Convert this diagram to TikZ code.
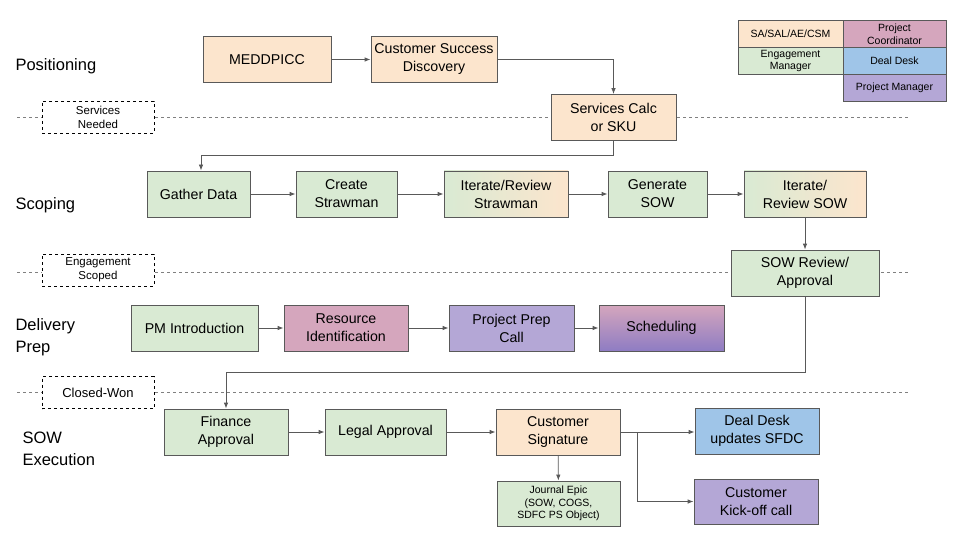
\documentclass[tikz,border=0pt]{standalone}
\usepackage{fontspec}
\setmainfont{Liberation Sans}
\usetikzlibrary{arrows.meta}
\definecolor{cor}{HTML}{FCE5CD}
\definecolor{cgr}{HTML}{D9EAD3}
\definecolor{cpk}{HTML}{D5A6BD}
\definecolor{cbl}{HTML}{9FC5E8}
\definecolor{cpu}{HTML}{B4A7D6}
\definecolor{cpd}{HTML}{8E7CC3}
\definecolor{cln}{HTML}{595959}
\begin{document}
\begin{tikzpicture}[x=1pt,y=-1pt,
 box/.style={draw=cln,line width=0.8pt,minimum height=46pt,align=center,font=\fontsize{14.2}{18}\selectfont,inner sep=1pt},
 lg/.style={draw=cln,line width=0.8pt,align=center,font=\fontsize{10.5}{12.5}\selectfont,inner sep=0pt,minimum height=27pt},
 dl/.style={draw=black,dashed,line width=0.7pt,minimum width=112pt,minimum height=32pt,align=center,font=\fontsize{11.5}{14}\selectfont,inner sep=0pt},
 arr/.style={draw=cln,line width=0.8pt,-{Latex[length=6pt,width=4.5pt]}},
 sep/.style={draw=gray,dashed,line width=0.8pt},
 row/.style={anchor=west,font=\fontsize{16.5}{22}\selectfont,align=left}]
\useasboundingbox (0,0) rectangle (960,540);
\draw[sep] (17,117) -- (908,117);
\draw[sep] (17,272) -- (908,272);
\draw[sep] (17,392) -- (908,392);
\node[row] (r1) at (12,66) {Positioning};
\node[row] (r2) at (12,205) {Scoping};
\node[row] (r3) at (12,337) {Delivery\\Prep};
\node[row] (r4) at (19,449) {SOW\\Execution};
\node[dl,fill=white] (d1) at (98,117) {Services\\Needed};
\node[dl,fill=white] (d2) at (98,270) {Engagement\\Scoped};
\node[dl,fill=white,font=\fontsize{13}{15}\selectfont] (d3) at (98,392.5) {Closed-Won};
% legend
\node[lg,fill=cor,minimum width=105pt] (l1) at (790.5,34) {SA/SAL/AE/CSM};
\node[lg,fill=cpk,minimum width=103pt] (l2) at (894.5,34) {Project\\Coordinator};
\node[lg,fill=cgr,minimum width=105pt] (l3) at (790.5,61) {Engagement\\Manager};
\node[lg,fill=cbl,minimum width=103pt] (l4) at (894.5,61) {Deal Desk};
\node[lg,fill=cpu,minimum width=103pt] (l5) at (894.5,88) {Project Manager};
% nodes
\node[box,fill=cor,minimum width=128pt] (med) at (267,59.5) {MEDDPICC};
\node[box,fill=cor,minimum width=126pt] (csd) at (434,59.5) {Customer Success\\Discovery};
\node[box,fill=cor,minimum width=125pt] (sc) at (613.5,117.5) {Services Calc\\or SKU};
\node[box,fill=cgr,minimum width=103pt] (gd) at (198.5,194) {Gather Data};
\node[box,fill=cgr,minimum width=101pt] (cs) at (346.5,194) {Create\\Strawman};
\node[box,left color=cgr,right color=cor,minimum width=124pt] (irs) at (506,194) {Iterate/Review\\Strawman};
\node[box,fill=cgr,minimum width=99pt] (gs) at (657.5,194) {Generate\\SOW};
\node[box,left color=cgr,right color=cor,minimum width=122pt] (irw) at (805,194) {Iterate/\\Review SOW};
\node[box,fill=cgr,minimum width=148pt] (sra) at (805,273) {SOW Review/\\Approval};
\node[box,fill=cgr,minimum width=127pt] (pm) at (194.5,328) {PM Introduction};
\node[box,fill=cpk,minimum width=124pt] (ri) at (346,328) {Resource\\Identification};
\node[box,fill=cpu,minimum width=125pt] (ppc) at (511.5,328) {Project Prep\\Call};
\node[box,top color=cpk,bottom color=cpd,minimum width=125pt] (sch) at (661.5,328) {Scheduling};
\node[box,fill=cgr,minimum width=124pt] (fa) at (226,432) {Finance\\Approval};
\node[box,fill=cgr,minimum width=121pt] (la) at (385.5,432) {Legal Approval};
\node[box,fill=cor,minimum width=124pt] (csig) at (558,432) {Customer\\Signature};
\node[box,fill=cbl,minimum width=124pt] (dd) at (757,431) {Deal Desk\\updates SFDC};
\node[box,fill=cgr,minimum width=123pt,minimum height=45pt,font=\fontsize{10.5}{12.5}\selectfont] (je) at (558.5,503.5) {Journal Epic\\(SOW, COGS,\\SDFC PS Object)};
\node[box,fill=cpu,minimum width=124pt,minimum height=45pt] (ko) at (756,501.5) {Customer\\Kick-off call};
% connectors
\draw[arr] (med) -- (csd);
\draw[arr] (csd.east) -| (sc.north);
\draw[arr] (sc.south) -- (613.5,155) -| (gd.north -| 201,0);
\draw[arr] (gd) -- (cs);
\draw[arr] (cs) -- (irs);
\draw[arr] (irs) -- (gs);
\draw[arr] (gs) -- (irw);
\draw[arr] (irw) -- (sra);
\draw[arr] (pm) -- (ri);
\draw[arr] (ri) -- (ppc);
\draw[arr] (ppc) -- (sch);
\draw[arr] (sra.south) -- (805,372) -| (fa.north);
\draw[arr] (fa) -- (la);
\draw[arr] (la) -- (csig);
\draw[arr] (csig.east) -- (dd.west |- csig.east);
\draw[arr] (csig.east) -- (637,432) |- (ko.west);
\draw[arr] (csig) -- (je);
\end{tikzpicture}
\end{document}
